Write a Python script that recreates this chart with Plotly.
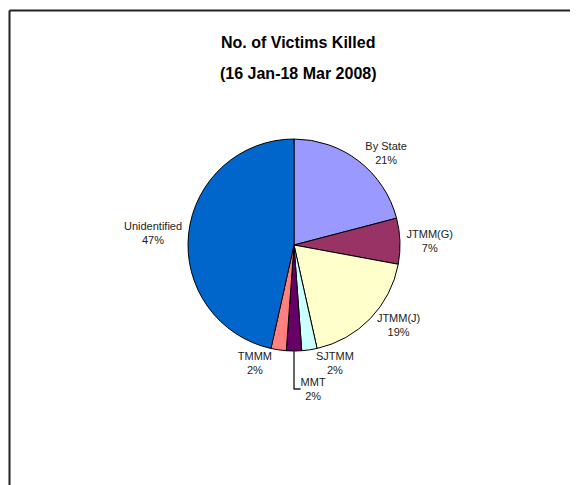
import plotly.graph_objects as go

labels = ["By State", "JTMM(G)", "JTMM(J)", "SJTMM", "MMT", "TMMM", "Unidentified"]
values = [9, 3, 8, 1, 1, 1, 20]
colors = ["#9999FF", "#993366", "#FFFFCC", "#CCFFFF", "#660066", "#FF8080", "#0066CC"]
title_lines = ["No. of Victims Killed", "(16 Jan-18 Mar 2008)"]

OFF = 8  # page body margin shifts the figure by 8px
W, H = 578 - OFF, 485 - OFF
FONT = "Liberation Sans, Arial, sans-serif"


def px(x):
    return (x - OFF) / W


def py(y):
    return (H - (y - OFF)) / H


cx, cy, r = 294, 245, 106

fig = go.Figure(go.Pie(
    labels=labels,
    values=values,
    sort=False,
    direction="clockwise",
    rotation=0,
    marker=dict(colors=colors, line=dict(color="black", width=1)),
    texttemplate="%{label}<br>%{percent:.0%}",
    textposition="outside",
    textfont=dict(family=FONT, size=11, color="#222222"),
    showlegend=False,
    hoverinfo="label+percent",
    domain=dict(x=[px(cx - r), px(cx + r)],
                y=[py(cy + r), py(cy - r)]),
))

fig.update_layout(
    width=W, height=H,
    margin=dict(l=0, r=0, t=0, b=0),
    paper_bgcolor="white",
    plot_bgcolor="white",
    annotations=[
        dict(text="<b>%s</b>" % title_lines[0], x=px(298), y=py(42),
             xref="paper", yref="paper", showarrow=False,
             font=dict(family=FONT, size=16, color="black"),
             xanchor="center", yanchor="middle"),
        dict(text="<b>%s</b>" % title_lines[1], x=px(298), y=py(73),
             xref="paper", yref="paper", showarrow=False,
             font=dict(family=FONT, size=16, color="black"),
             xanchor="center", yanchor="middle"),
    ],
    shapes=[
        dict(type="line", xref="paper", yref="paper",
             x0=px(9.5), x1=1.0, y0=py(10.5), y1=py(10.5),
             line=dict(color="#222222", width=2)),
        dict(type="line", xref="paper", yref="paper",
             x0=px(9.5), x1=px(9.5), y0=0, y1=py(10.5),
             line=dict(color="#222222", width=2)),
    ],
)

fig.write_html("out.html")
